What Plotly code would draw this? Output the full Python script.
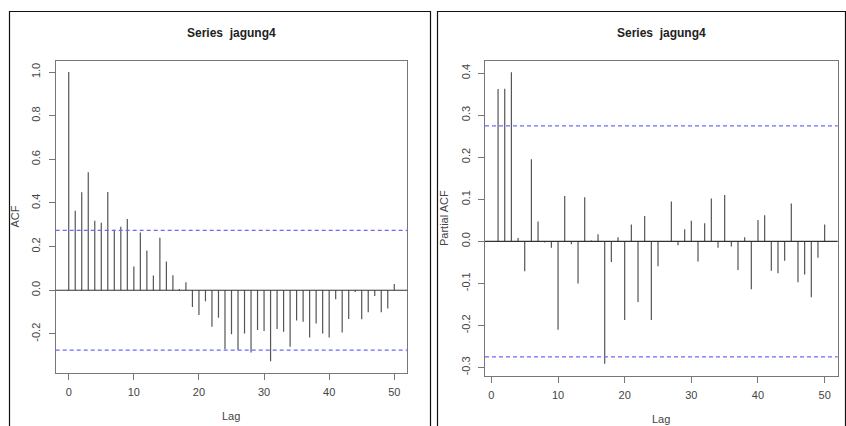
import plotly.graph_objects as go

W, H = 846, 426

acf_lags = list(range(0, 51))
acf_vals = [1.0, 0.364, 0.449, 0.541, 0.319, 0.309, 0.450, 0.277, 0.291, 0.326,
            0.109, 0.265, 0.182, 0.067, 0.240, 0.132, 0.069, 0.006, 0.037, -0.077,
            -0.113, -0.051, -0.167, -0.126, -0.271, -0.202, -0.274, -0.198, -0.285, -0.182,
            -0.187, -0.325, -0.178, -0.190, -0.259, -0.139, -0.144, -0.217, -0.152, -0.198,
            -0.217, -0.041, -0.194, -0.132, -0.008, -0.133, -0.101, -0.026, -0.101, -0.084,
            0.028]

pacf_lags = list(range(1, 51))
pacf_vals = [0.362, 0.363, 0.402, 0.008, -0.071, 0.195, 0.047, -0.003, -0.015, -0.210,
             0.108, -0.007, -0.100, 0.105, 0.002, 0.017, -0.291, -0.049, 0.010, -0.187,
             0.040, -0.144, 0.060, -0.187, -0.059, 0.001, 0.095, -0.009, 0.029, 0.049,
             -0.048, 0.043, 0.102, -0.015, 0.110, -0.012, -0.068, 0.010, -0.114, 0.051,
             0.062, -0.070, -0.076, -0.046, 0.090, -0.097, -0.079, -0.133, -0.039, 0.040]

ci = 0.2747
title_text = "Series  jagung4"
acf_ticks = [-0.2, 0.0, 0.2, 0.4, 0.6, 0.8, 1.0]
pacf_ticks = [-0.3, -0.2, -0.1, 0.0, 0.1, 0.2, 0.3, 0.4]
x_ticks = [0, 10, 20, 30, 40, 50]

FONT = "Liberation Sans, Arial, sans-serif"


def stems(lags, vals):
    xs, ys = [], []
    for l, v in zip(lags, vals):
        xs += [l, l, None]
        ys += [0, v, None]
    return xs, ys


def lab(v):
    return f"{v:.1f}"


fig = go.Figure()
x1, y1 = stems(acf_lags, acf_vals)
fig.add_trace(go.Scatter(x=x1, y=y1, mode="lines", line=dict(color="#555555", width=1.2),
                         xaxis="x", yaxis="y", hoverinfo="skip", showlegend=False))
x2, y2 = stems(pacf_lags, pacf_vals)
fig.add_trace(go.Scatter(x=x2, y=y2, mode="lines", line=dict(color="#555555", width=1.2),
                         xaxis="x2", yaxis="y2", hoverinfo="skip", showlegend=False))

def px(x):
    return x / W

def py(y):
    return 1 - y / H

L = dict(x0=55.7, x1=407.3, y0=60.5, y1=372.7)
R = dict(x0=485.0, x1=837.7, y0=60.5, y1=375.5)

axis_common = dict(showgrid=False, zeroline=False, showline=True, mirror=True,
                   linecolor="#777777", linewidth=1, ticks="outside", ticklen=6,
                   tickcolor="#777777", tickwidth=1,
                   tickfont=dict(family=FONT, size=11, color="#444444"))

fig.update_layout(
    width=W, height=H, margin=dict(l=0, r=0, t=0, b=0),
    paper_bgcolor="white", plot_bgcolor="white",
    xaxis=dict(domain=[px(L["x0"]), px(L["x1"])], range=[-2, 52], tickvals=x_ticks,
               ticktext=[str(t) for t in x_ticks],
               anchor="y", ticklabelstandoff=3, **axis_common),
    yaxis=dict(domain=[py(L["y1"]), py(L["y0"])], range=[-0.378, 1.053], tickvals=acf_ticks,
               ticktext=[lab(t) for t in acf_ticks],
               tickangle=-90, anchor="x", ticklabelstandoff=4, **axis_common),
    xaxis2=dict(domain=[px(R["x0"]), px(R["x1"])], range=[-0.96, 51.96], tickvals=x_ticks,
                ticktext=[str(t) for t in x_ticks],
                anchor="y2", ticklabelstandoff=3, **axis_common),
    yaxis2=dict(domain=[py(R["y1"]), py(R["y0"])], range=[-0.319, 0.430], tickvals=pacf_ticks,
                ticktext=[lab(t) for t in pacf_ticks],
                tickangle=-90, anchor="x2", ticklabelstandoff=4, **axis_common),
)

shapes = []
for xr, yr in (("x", "y"), ("x2", "y2")):
    shapes.append(dict(type="line", xref=xr + " domain", yref=yr, x0=0, x1=1, y0=0, y1=0,
                       line=dict(color="#333333", width=1.2)))
    for c in (ci, -ci):
        shapes.append(dict(type="line", xref=xr + " domain", yref=yr, x0=0, x1=1, y0=c, y1=c,
                           line=dict(color="#6a6aff", width=1.2, dash="4px,3px")))

for fx0, fx1 in ((9.5, 430.5), (437.5, 845.5)):
    shapes.append(dict(type="path", xref="paper", yref="paper",
                       path=f"M {px(fx0)},{py(440)} L {px(fx0)},{py(11.5)} L {px(fx1)},{py(11.5)} L {px(fx1)},{py(440)}",
                       line=dict(color="#111111", width=1.2)))
fig.update_layout(shapes=shapes)

ann = []
for cx in ((L["x0"] + L["x1"]) / 2, (R["x0"] + R["x1"]) / 2):
    ann.append(dict(text="<b>" + title_text + "</b>", x=px(cx), y=py(33), xref="paper", yref="paper",
                    showarrow=False, xanchor="center", yanchor="middle",
                    font=dict(family=FONT, size=12, color="#222222")))
ann.append(dict(text="Lag", x=px((L["x0"] + L["x1"]) / 2), y=py(416), xref="paper", yref="paper",
                showarrow=False, xanchor="center", yanchor="middle",
                font=dict(family=FONT, size=11, color="#444444")))
ann.append(dict(text="Lag", x=px((R["x0"] + R["x1"]) / 2), y=py(419), xref="paper", yref="paper",
                showarrow=False, xanchor="center", yanchor="middle",
                font=dict(family=FONT, size=11, color="#444444")))
ann.append(dict(text="ACF", x=px(15), y=py((L["y0"] + L["y1"]) / 2), xref="paper", yref="paper",
                showarrow=False, xanchor="center", yanchor="middle", textangle=-90,
                font=dict(family=FONT, size=11, color="#444444")))
ann.append(dict(text="Partial ACF", x=px(444), y=py((R["y0"] + R["y1"]) / 2), xref="paper", yref="paper",
                showarrow=False, xanchor="center", yanchor="middle", textangle=-90,
                font=dict(family=FONT, size=11, color="#444444")))
fig.update_layout(annotations=ann)

fig.write_html("out.html")
